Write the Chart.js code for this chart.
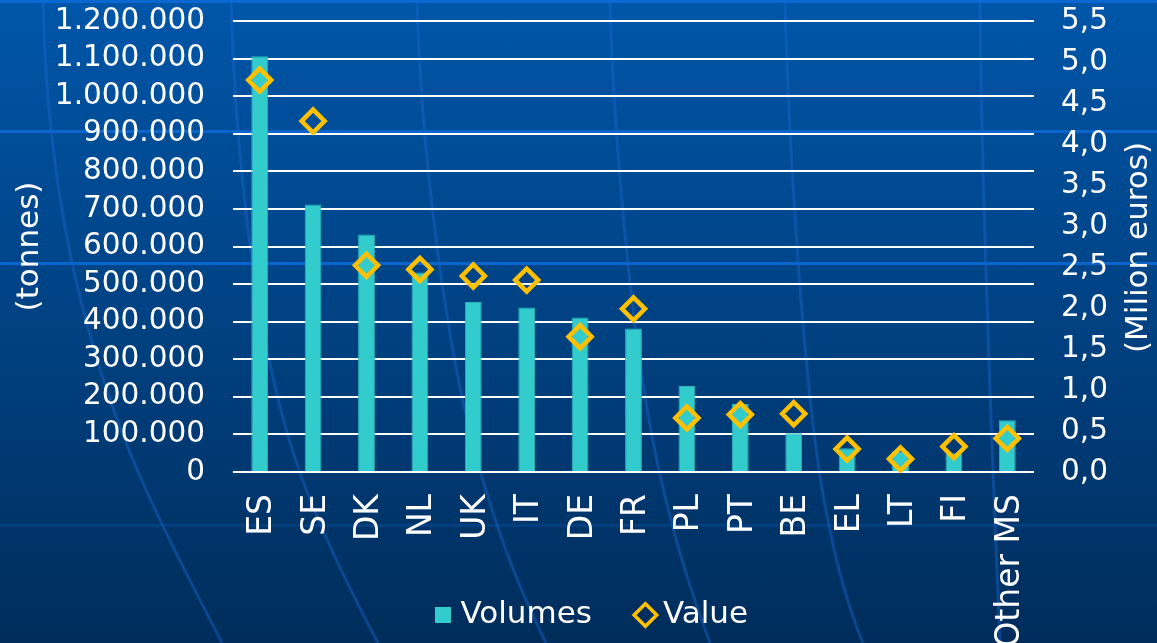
<!DOCTYPE html>
<html>
<head>
<meta charset="utf-8">
<script src="https://cdn.jsdelivr.net/npm/chart.js@4.4.1/dist/chart.umd.min.js"></script>
<style>
html,body{margin:0;padding:0;width:1157px;height:643px;overflow:hidden;background:#003f80;}
#bg{position:absolute;left:0;top:0;}
#wrap{position:absolute;left:0;top:0;width:1157px;height:643px;}
</style>
</head>
<body>
<svg id="bg" width="1157" height="643" viewBox="0 0 1157 643" xmlns="http://www.w3.org/2000/svg">
  <defs>
    <linearGradient id="g" x1="0" y1="0" x2="0" y2="1">
      <stop offset="0" stop-color="#0056a9"/>
      <stop offset="1" stop-color="#002d5b"/>
    </linearGradient>
  </defs>
  <rect width="1157" height="643" fill="url(#g)"/>
  <g stroke="#1a6ad0" stroke-opacity="0.42" stroke-width="3" fill="none">
    <path d="M43,0 C46,150 70,300 125,440 C150,505 190,580 222,643"/>
    <path d="M231,0 C234,120 250,330 299,470 C320,530 350,590 378,643"/>
    <path d="M417,0 C420,120 440,330 480,470 C500,540 520,590 546,643"/>
    <path d="M610,0 C613,120 630,340 659,470 C672,530 690,590 710,643"/>
    <path d="M785,0 C788,120 800,340 819,470 C830,540 845,600 863,643"/>
    <path d="M980,0 C981,120 988,340 993,470 C996,540 998,600 1000,643"/>
  </g>
  <rect x="0" y="0" width="1157" height="3" fill="#0a68d0"/>
  <rect x="0" y="130" width="1157" height="3" fill="#0a66cc"/>
  <rect x="0" y="262" width="1157" height="3" fill="#0a66cc"/>
  <rect x="0" y="524" width="1157" height="3" fill="#0a5cc0" fill-opacity="0.28"/>
</svg>
<div id="wrap"><canvas id="c" width="1157" height="643"></canvas></div>
<script>
// ---- data ----
const categories = ['ES','SE','DK','NL','UK','IT','DE','FR','PL','PT','BE','EL','LT','FI','Other MS'];
const volumes = [1106000, 712000, 632000, 531000, 452000, 438000, 411000, 382000, 229000, 181000, 103000, 63000, 55000, 50000, 138000];
const values = [4.78, 4.28, 2.52, 2.47, 2.39, 2.34, 1.65, 1.99, 0.66, 0.70, 0.71, 0.28, 0.16, 0.31, 0.41];
const seriesNames = ['Volumes', 'Value'];
const leftAxisTitle = '(tonnes)';
const rightAxisTitle = '(Milion euros)';

const FONT = '"DejaVu Sans", Verdana, sans-serif';
const TEAL = '#33cccc';
const GOLD = '#ffc000';

function fmtThousands(v) {
  return String(Math.round(v)).replace(/\B(?=(\d{3})+(?!\d))/g, '.');
}
function fmtDecimal(v) {
  return Number(v).toFixed(1).replace('.', ',');
}

const rightTitlePlugin = {
  id: 'rightTitle',
  afterDraw(chart) {
    const ctx = chart.ctx;
    const s = chart.scales.y1;
    const ca = chart.chartArea;
    ctx.save();
    ctx.translate(s.right - 17.7, (ca.top + ca.bottom) / 2 + 1);
    ctx.rotate(-Math.PI / 2);
    ctx.font = '31px ' + FONT;
    ctx.fillStyle = '#ffffff';
    ctx.textAlign = 'center';
    ctx.textBaseline = 'middle';
    ctx.fillText(rightAxisTitle, 0, 0);
    ctx.restore();
  }
};

function noPad(s) {
  s.paddingTop = 0; s.paddingBottom = 0; s.paddingLeft = 0; s.paddingRight = 0;
}

new Chart(document.getElementById('c'), {
  data: {
    labels: categories,
    datasets: [
      {
        type: 'line',
        label: seriesNames[1],
        data: values,
        yAxisID: 'y1',
        showLine: false,
        pointStyle: 'rectRot',
        pointRadius: 11.5,
        pointHoverRadius: 11.5,
        pointBorderWidth: 4.5,
        pointBorderColor: GOLD,
        pointBackgroundColor: 'rgba(0,0,0,0)',
        borderColor: GOLD,
        backgroundColor: 'rgba(0,0,0,0)',
        clip: false,
        order: 1
      },
      {
        type: 'bar',
        label: seriesNames[0],
        data: volumes,
        yAxisID: 'y',
        backgroundColor: TEAL,
        borderColor: '#2cb4ba',
        borderWidth: 1,
        categoryPercentage: 1.0,
        barPercentage: 0.315,
        order: 2
      }
    ]
  },
  options: {
    responsive: false,
    animation: false,
    devicePixelRatio: 1,
    layout: { padding: { top: 21, left: 32, right: 0, bottom: 2.5 } },
    scales: {
      x: {
        type: 'category',
        grid: { display: false, drawTicks: false },
        border: { display: false },
        ticks: {
          color: '#ffffff',
          font: { family: FONT, size: 33 },
          maxRotation: 90,
          minRotation: 90,
          padding: 22,
          labelOffset: 3,
          autoSkip: false
        },
        afterFit(s) {
          s.height = 76;
          noPad(s);
          s._computeLabelArea = function () {
            return { top: this.top, left: 0, bottom: this.chart.height, right: this.chart.width };
          };
        }
      },
      y: {
        position: 'left',
        min: 0,
        max: 1200000,
        grid: { color: '#ffffff', lineWidth: 2, drawTicks: false },
        border: { display: false },
        ticks: {
          stepSize: 100000,
          autoSkip: false,
          color: '#ffffff',
          font: { family: FONT, size: 29.5 },
          padding: 28,
          callback: (v) => fmtThousands(v)
        },
        title: {
          display: true,
          text: leftAxisTitle,
          color: '#ffffff',
          font: { family: FONT, size: 31 },
          padding: { top: -21, bottom: 0 }
        },
        afterFit(s) { s.width = 201; noPad(s); }
      },
      y1: {
        position: 'right',
        min: 0,
        max: 5.5,
        grid: { drawOnChartArea: false, drawTicks: false },
        border: { display: false },
        ticks: {
          stepSize: 0.5,
          autoSkip: false,
          color: '#ffffff',
          font: { family: FONT, size: 29.5 },
          padding: 27,
          callback: (v) => fmtDecimal(v)
        },
        afterFit(s) { s.width = 123; noPad(s); }
      }
    },
    plugins: {
      tooltip: { enabled: false },
      legend: {
        position: 'bottom',
        labels: {
          color: '#ffffff',
          font: { family: FONT, size: 31 },
          usePointStyle: true,
          boxWidth: 4,
          boxHeight: 16,
          padding: 51.5,
          generateLabels: () => [
            { text: seriesNames[0], fillStyle: TEAL, strokeStyle: TEAL, lineWidth: 0, pointStyle: 'rect', datasetIndex: 1, hidden: false, fontColor: '#ffffff' },
            { text: seriesNames[1], fillStyle: 'rgba(0,0,0,0)', strokeStyle: GOLD, lineWidth: 3.5, pointStyle: 'rectRot', datasetIndex: 0, hidden: false, fontColor: '#ffffff' }
          ]
        }
      }
    }
  },
  plugins: [rightTitlePlugin]
});
</script>
</body>
</html>
